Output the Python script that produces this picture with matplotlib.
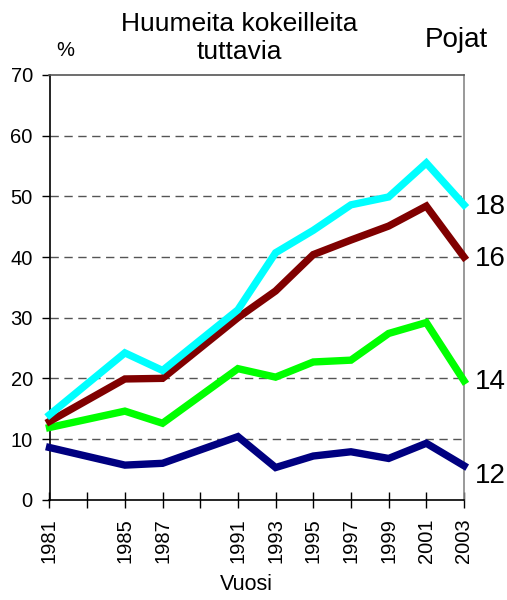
import matplotlib
matplotlib.use("Agg")
import matplotlib.pyplot as plt

plt.rcParams['font.family'] = ['Liberation Sans', 'DejaVu Sans']

years = [1981, 1985, 1987, 1991, 1993, 1995, 1997, 1999, 2001, 2003]
age18 = [14.0, 24.2, 21.3, 31.3, 40.7, 44.4, 48.6, 49.9, 55.5, 48.6]
age16 = [12.9, 19.9, 20.0, 30.0, 34.4, 40.4, 42.8, 45.1, 48.4, 40.0]
age14 = [11.9, 14.6, 12.6, 21.6, 20.2, 22.7, 23.0, 27.4, 29.2, 19.6]
age12 = [8.6, 5.7, 6.0, 10.4, 5.3, 7.2, 7.9, 6.8, 9.3, 5.6]
series_labels = ["18", "16", "14", "12"]
series_colors = ["#00FFFF", "#800000", "#00FF00", "#000080"]
label_y = [48.2, 39.6, 19.4, 3.9]
tick_years = list(range(1981, 2004, 2))
yticks = [0, 10, 20, 30, 40, 50, 60, 70]

fig = plt.figure(figsize=(5.07, 6.0), dpi=100)
ax = fig.add_axes([49.5/507, 1-499.7/600, (464-49.5)/507, (499.7-75)/600])

all_series = [age18, age16, age14, age12]
for lab, vals, col, ly in reversed(list(zip(series_labels, all_series, series_colors, label_y))):
    ax.plot(years, vals, color=col, lw=5.3, solid_joinstyle='miter', zorder=3, clip_on=False)
    ax.text(1.027, ly, lab, transform=ax.get_yaxis_transform(), fontsize=20,
            va='center', ha='left')

ax.set_xlim(1981, 2003)
ax.set_ylim(0, 70)
ax.set_yticks(yticks)
ax.tick_params(axis='y', labelsize=14.5, direction='out', length=6, width=1, pad=6)
ax.set_xticks(tick_years)
ax.set_xticklabels([str(y) if y in years else "" for y in tick_years], rotation=90)
ax.tick_params(axis='x', labelsize=14.5, direction='inout', length=11, width=1, pad=8)
for v in yticks[1:-1]:
    ax.axhline(v, color='#555555', lw=1, ls=(0, (6, 4)), zorder=1)
ax.spines['right'].set_color('#888888')
ax.spines['top'].set_color('#555555')
for s in ax.spines.values():
    s.set_linewidth(1.2)

fig.text(246/507, 1-585/600, "Vuosi", fontsize=15.5, ha='center', va='center')
fig.text(239/507, 1-38/600, "Huumeita kokeilleita\ntuttavia", fontsize=19,
         ha='center', va='center', linespacing=1.2)
fig.text(65/507, 1-50/600, "%", fontsize=14.5, ha='center', va='center')
fig.text(456/507, 1-40/600, "Pojat", fontsize=20, ha='center', va='center')

fig.savefig("out.png", dpi=100)
